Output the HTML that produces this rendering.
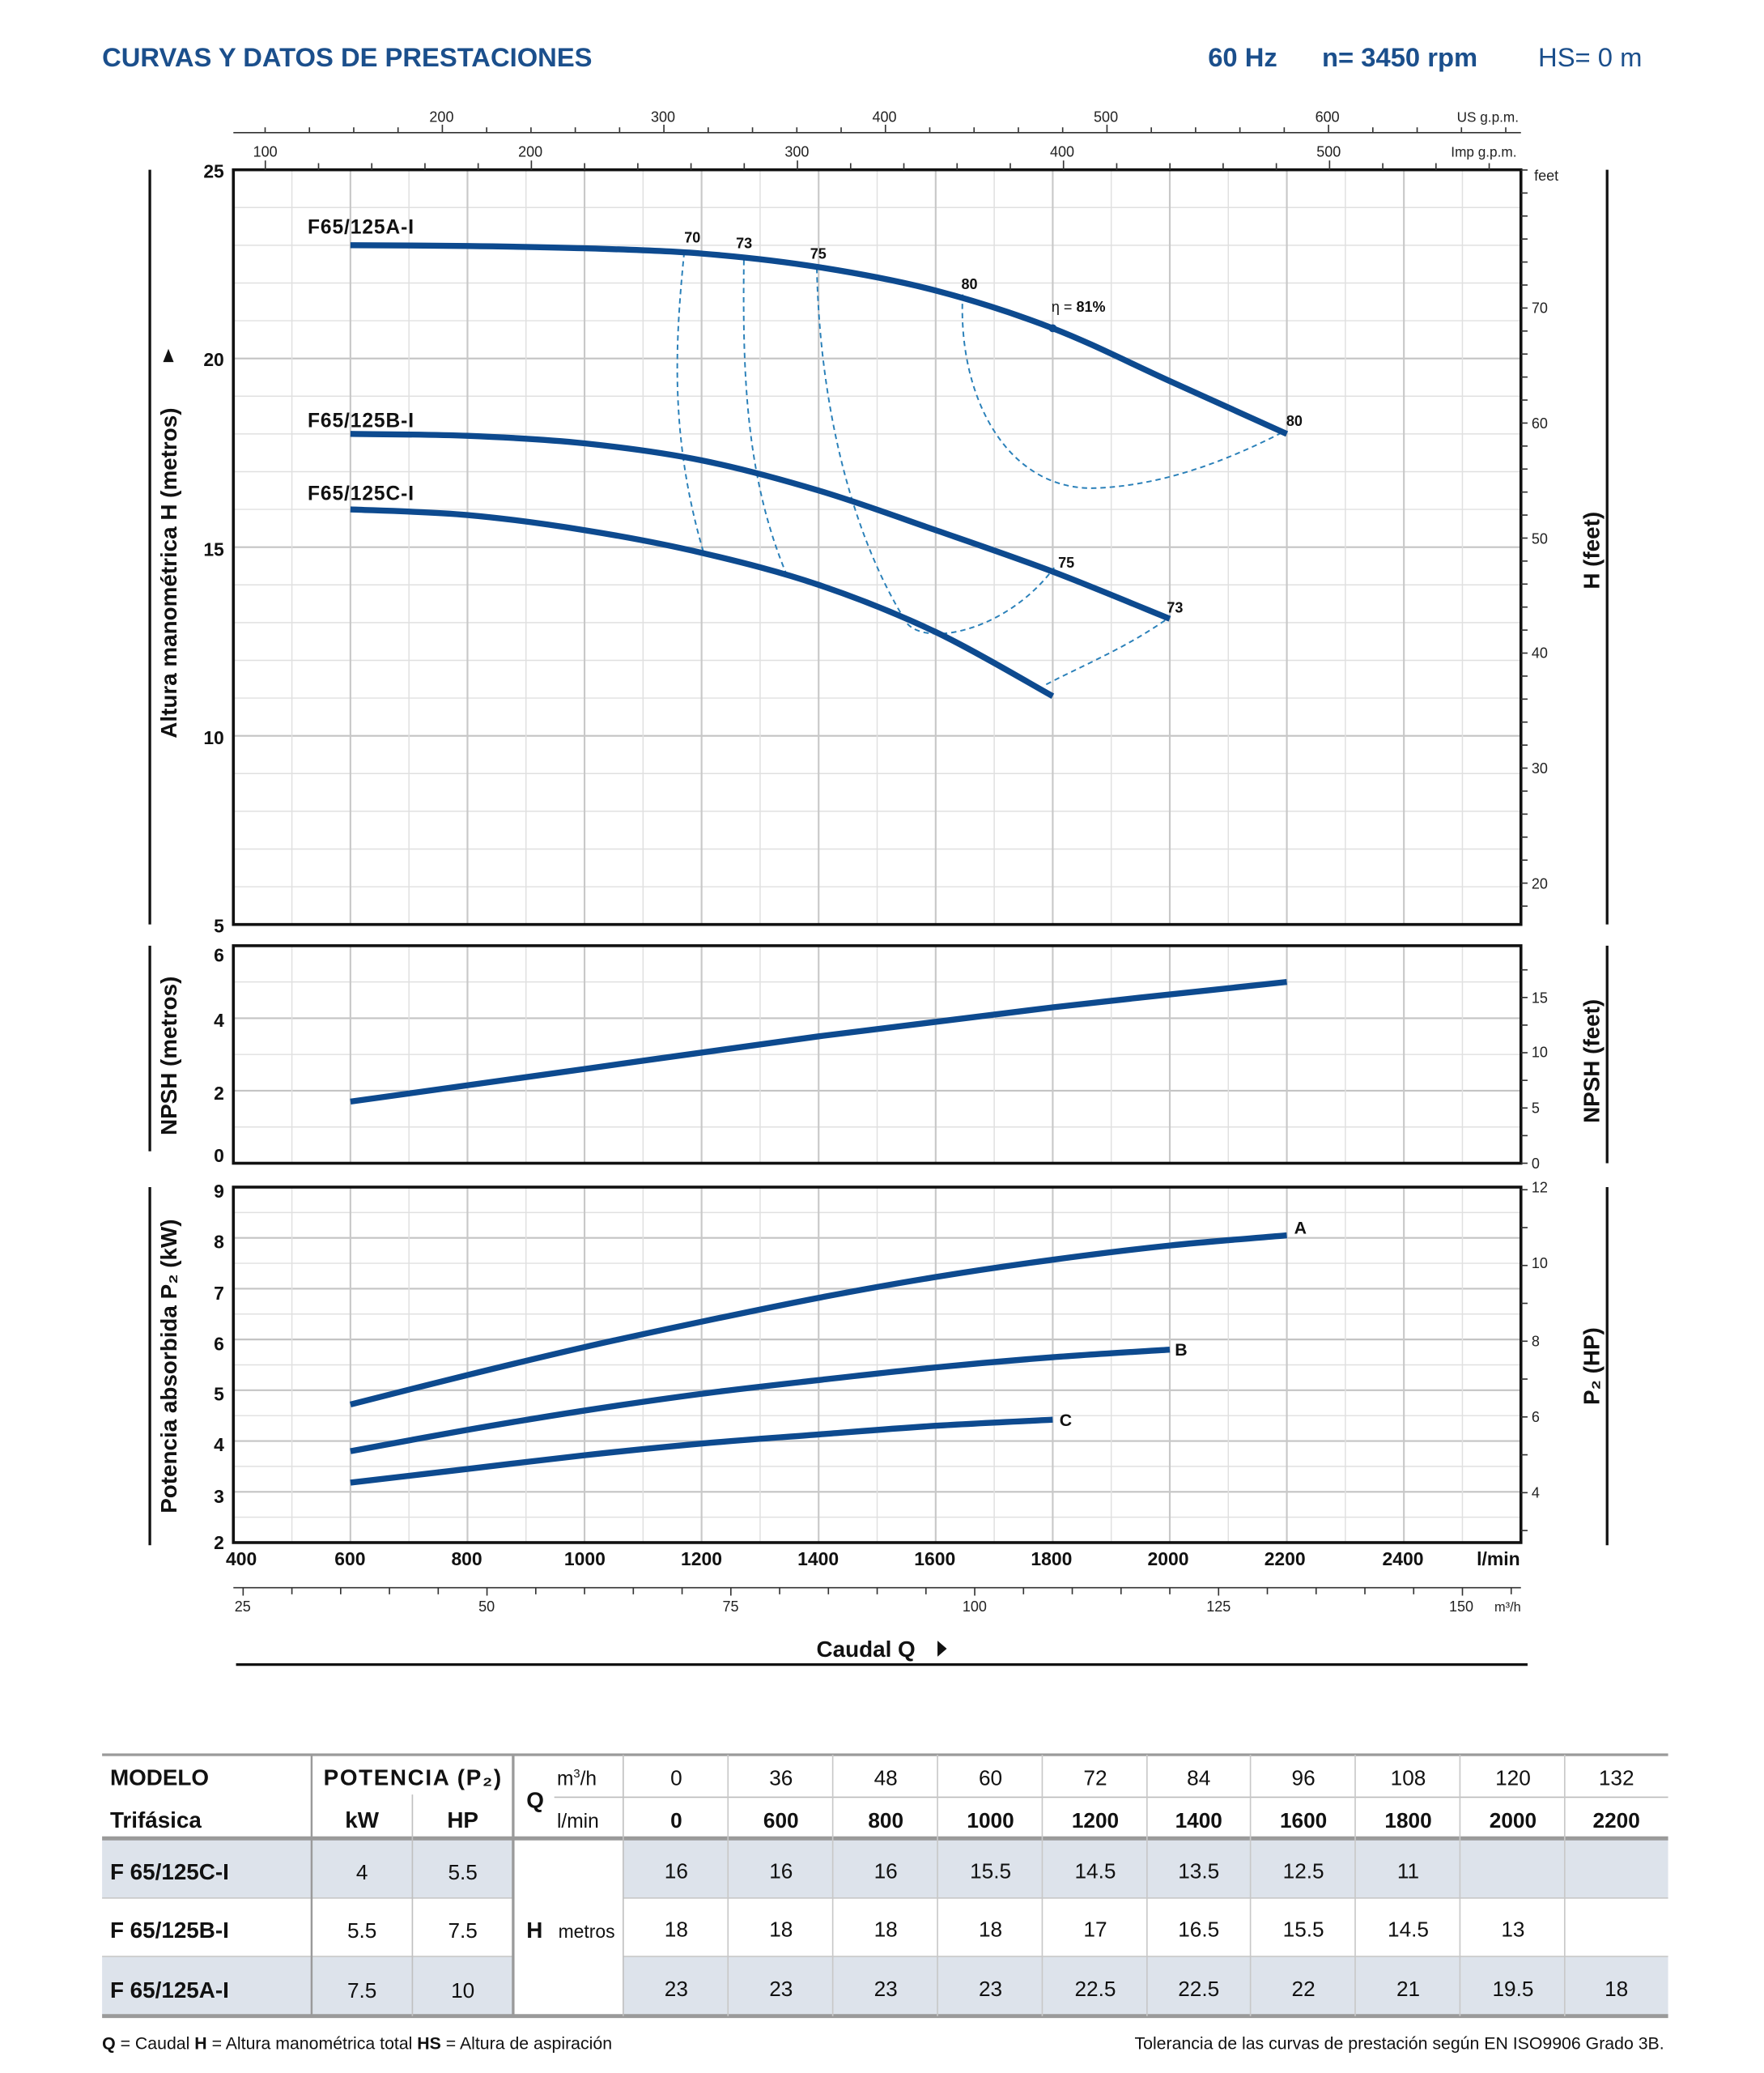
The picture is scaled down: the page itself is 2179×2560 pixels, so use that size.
<!DOCTYPE html>
<html><head><meta charset="utf-8"><style>
html,body{margin:0;padding:0;background:#fff}
svg{display:block}
text{font-family:"Liberation Sans",sans-serif}
</style></head><body>
<svg id="s" width="2179" height="2560" viewBox="0 0 1330.3 1562.9" xmlns="http://www.w3.org/2000/svg">
<g id="grid"></g>
<g id="curves"></g>
<!-- Title -->
<text x="77" y="50" font-size="20" font-weight="bold" fill="#1b4f8c">CURVAS Y DATOS DE PRESTACIONES</text>
<text x="911" y="50" font-size="20" font-weight="bold" fill="#1b4f8c">60 Hz</text>
<text x="997" y="50" font-size="20" font-weight="bold" fill="#1b4f8c">n= 3450 rpm</text>
<text x="1160" y="50" font-size="20" fill="#1b4f8c">HS= 0 m</text>
<!-- top axes labels -->
<g font-size="11" text-anchor="middle" fill="#222">
<text x="333" y="92">200</text><text x="500" y="92">300</text><text x="667" y="92">400</text><text x="834" y="92">500</text><text x="1001" y="92">600</text>
<text x="1122" y="92" font-size="10.5">US g.p.m.</text>
<text x="200" y="118">100</text><text x="400" y="118">200</text><text x="601" y="118">300</text><text x="801" y="118">400</text><text x="1002" y="118">500</text>
<text x="1119" y="118" font-size="10.5">Imp g.p.m.</text>
</g>
<!-- main left labels -->
<g font-size="14" font-weight="bold" text-anchor="end" fill="#111">
<text x="169" y="134">25</text><text x="169" y="276">20</text><text x="169" y="419">15</text><text x="169" y="561">10</text><text x="169" y="703">5</text>
<text x="169" y="725">6</text><text x="169" y="774">4</text><text x="169" y="829">2</text><text x="169" y="876">0</text>
<text x="169" y="903">9</text><text x="169" y="941">8</text><text x="169" y="980">7</text><text x="169" y="1018">6</text><text x="169" y="1056">5</text><text x="169" y="1094">4</text><text x="169" y="1133">3</text><text x="169" y="1168">2</text>
</g>
<g font-size="11" fill="#222">
<text x="1157" y="136">feet</text>
<text x="1155" y="236">70</text><text x="1155" y="323">60</text><text x="1155" y="410">50</text><text x="1155" y="496">40</text><text x="1155" y="583">30</text><text x="1155" y="670">20</text>
<text x="1155" y="756">15</text><text x="1155" y="797">10</text><text x="1155" y="839">5</text><text x="1155" y="881">0</text>
<text x="1155" y="899">12</text><text x="1155" y="956">10</text><text x="1155" y="1015">8</text><text x="1155" y="1072">6</text><text x="1155" y="1129">4</text>
</g>
<!-- axis titles -->
<g font-size="17" font-weight="bold" fill="#111" text-anchor="middle">
<text transform="translate(133,432) rotate(-90)">Altura manométrica H  (metros)</text>
<text transform="translate(1206,415) rotate(-90)">H  (feet)</text>
<text transform="translate(133,796) rotate(-90)">NPSH  (metros)</text>
<text transform="translate(1206,800) rotate(-90)">NPSH  (feet)</text>
<text transform="translate(133,1030) rotate(-90)">Potencia absorbida  P₂  (kW)</text>
<text transform="translate(1206,1030) rotate(-90)">P₂  (HP)</text>
</g>
<path d="M122,272 L132,268 L122,264Z" transform="rotate(-90 127 268)" fill="#111"/>
<!-- bottom labels -->
<g font-size="14" font-weight="bold" text-anchor="middle" fill="#111">
<text x="182" y="1180">400</text><text x="264" y="1180">600</text><text x="352" y="1180">800</text><text x="441" y="1180">1000</text><text x="529" y="1180">1200</text><text x="617" y="1180">1400</text><text x="705" y="1180">1600</text><text x="793" y="1180">1800</text><text x="881" y="1180">2000</text><text x="969" y="1180">2200</text><text x="1058" y="1180">2400</text><text x="1130" y="1180">l/min</text>
</g>
<g font-size="11" text-anchor="middle" fill="#222">
<text x="183" y="1215">25</text><text x="367" y="1215">50</text><text x="551" y="1215">75</text><text x="735" y="1215">100</text><text x="919" y="1215">125</text><text x="1102" y="1215">150</text><text x="1137" y="1215" font-size="10">m³/h</text>
</g>
<text x="653" y="1249" font-size="17" font-weight="bold" text-anchor="middle" fill="#111">Caudal Q</text>
<path d="M707,1237 L714,1243 L707,1249Z" fill="#111"/>
<line x1="178" y1="1255" x2="1152" y2="1255" stroke="#111" stroke-width="2"/>
<!-- curve labels -->
<g font-size="15" font-weight="bold" fill="#111">
<text x="232" y="176" textLength="80">F65/125A-I</text>
<text x="232" y="322" textLength="80">F65/125B-I</text>
<text x="232" y="377" textLength="80">F65/125C-I</text>
</g>
<g font-size="11" font-weight="bold" fill="#111">
<text x="516" y="183">70</text><text x="555" y="187">73</text><text x="611" y="195">75</text><text x="725" y="218">80</text>
<text x="793" y="235"><tspan font-weight="normal">η = </tspan>81%</text>
<text x="970" y="321">80</text><text x="798" y="428">75</text><text x="880" y="462">73</text>
<text x="976" y="930" font-size="13">A</text><text x="886" y="1022" font-size="13">B</text><text x="799" y="1075" font-size="13">C</text>
</g>
<!-- table -->
<g id="tbl">
<rect x="77" y="1386" width="1181" height="45" fill="#dde3eb"/>
<rect x="77" y="1475" width="1181" height="45" fill="#dde3eb"/>
<rect x="388" y="1387" width="82" height="133" fill="#fff"/>
<line x1="77" y1="1323" x2="1258" y2="1323" stroke="#9a9a9a" stroke-width="2"/>
<line x1="77" y1="1386" x2="1258" y2="1386" stroke="#9a9a9a" stroke-width="3"/>
<line x1="77" y1="1520" x2="1258" y2="1520" stroke="#9a9a9a" stroke-width="3"/>
<line x1="418" y1="1355" x2="1258" y2="1355" stroke="#bbb" stroke-width="1"/>
<line x1="77" y1="1431" x2="388" y2="1431" stroke="#c8c8c8"/><line x1="470" y1="1431" x2="1258" y2="1431" stroke="#c8c8c8"/>
<line x1="77" y1="1475" x2="388" y2="1475" stroke="#c8c8c8"/><line x1="470" y1="1475" x2="1258" y2="1475" stroke="#c8c8c8"/>
<line x1="235" y1="1323" x2="235" y2="1520" stroke="#9a9a9a" stroke-width="1.5"/>
<line x1="311" y1="1353" x2="311" y2="1520" stroke="#c0c0c0"/>
<line x1="387" y1="1323" x2="387" y2="1520" stroke="#9a9a9a" stroke-width="2"/>
<line x1="470" y1="1323" x2="470" y2="1520" stroke="#c0c0c0"/>
<g stroke="#c8c8c8">
<line x1="549" y1="1323" x2="549" y2="1520"/><line x1="628" y1="1323" x2="628" y2="1520"/><line x1="707" y1="1323" x2="707" y2="1520"/><line x1="786" y1="1323" x2="786" y2="1520"/><line x1="865" y1="1323" x2="865" y2="1520"/><line x1="943" y1="1323" x2="943" y2="1520"/><line x1="1022" y1="1323" x2="1022" y2="1520"/><line x1="1101" y1="1323" x2="1101" y2="1520"/><line x1="1180" y1="1323" x2="1180" y2="1520"/>
</g>
<g font-size="17" fill="#111">
<text x="83" y="1346" font-weight="bold">MODELO</text>
<text x="83" y="1378" font-weight="bold">Trifásica</text>
<text x="311" y="1346" font-weight="bold" text-anchor="middle" textLength="134">POTENCIA (P₂)</text>
<text x="273" y="1378" font-weight="bold" text-anchor="middle">kW</text>
<text x="349" y="1378" font-weight="bold" text-anchor="middle">HP</text>
<text x="397" y="1363" font-weight="bold">Q</text>
<text x="420" y="1346" font-size="15">m<tspan font-size="9" dy="-6">3</tspan><tspan dy="6">/h</tspan></text>
<text x="420" y="1378" font-size="15">l/min</text>
<text x="83" y="1417" font-weight="bold">F 65/125C-I</text>
<text x="83" y="1461" font-weight="bold">F 65/125B-I</text>
<text x="83" y="1506" font-weight="bold">F 65/125A-I</text>
<text x="397" y="1461" font-weight="bold">H</text>
<text x="421" y="1461" font-size="14">metros</text>
</g>
<g font-size="16" fill="#111" text-anchor="middle">
<text x="273" y="1417">4</text><text x="349" y="1417">5.5</text>
<text x="273" y="1461">5.5</text><text x="349" y="1461">7.5</text>
<text x="273" y="1506">7.5</text><text x="349" y="1506">10</text>
<text x="510" y="1346">0</text><text x="589" y="1346">36</text><text x="668" y="1346">48</text><text x="747" y="1346">60</text><text x="826" y="1346">72</text><text x="904" y="1346">84</text><text x="983" y="1346">96</text><text x="1062" y="1346">108</text><text x="1141" y="1346">120</text><text x="1219" y="1346">132</text>
<g font-weight="bold"><text x="510" y="1378">0</text><text x="589" y="1378">600</text><text x="668" y="1378">800</text><text x="747" y="1378">1000</text><text x="826" y="1378">1200</text><text x="904" y="1378">1400</text><text x="983" y="1378">1600</text><text x="1062" y="1378">1800</text><text x="1141" y="1378">2000</text><text x="1219" y="1378">2200</text></g>
<text x="510" y="1416">16</text><text x="589" y="1416">16</text><text x="668" y="1416">16</text><text x="747" y="1416">15.5</text><text x="826" y="1416">14.5</text><text x="904" y="1416">13.5</text><text x="983" y="1416">12.5</text><text x="1062" y="1416">11</text>
<text x="510" y="1460">18</text><text x="589" y="1460">18</text><text x="668" y="1460">18</text><text x="747" y="1460">18</text><text x="826" y="1460">17</text><text x="904" y="1460">16.5</text><text x="983" y="1460">15.5</text><text x="1062" y="1460">14.5</text><text x="1141" y="1460">13</text>
<text x="510" y="1505">23</text><text x="589" y="1505">23</text><text x="668" y="1505">23</text><text x="747" y="1505">23</text><text x="826" y="1505">22.5</text><text x="904" y="1505">22.5</text><text x="983" y="1505">22</text><text x="1062" y="1505">21</text><text x="1141" y="1505">19.5</text><text x="1219" y="1505">18</text>
</g>
<g font-size="13" fill="#111">
<text x="77" y="1545"><tspan font-weight="bold">Q</tspan> = Caudal   <tspan font-weight="bold">H</tspan> = Altura manométrica total   <tspan font-weight="bold">HS</tspan> = Altura de aspiración</text>
<text x="1255" y="1545" text-anchor="end">Tolerancia de las curvas de prestación según EN ISO9906 Grado 3B.</text>
</g>
</g>
</svg>
<script>
(function(){
var NS="http://www.w3.org/2000/svg";
var G=document.getElementById('grid'),C=document.getElementById('curves');
function el(p,t,a){var e=document.createElementNS(NS,t);for(var k in a)e.setAttribute(k,a[k]);p.appendChild(e);return e;}
function ln(p,x1,y1,x2,y2,c,w){return el(p,'line',{x1:x1,y1:y1,x2:x2,y2:y2,stroke:c,'stroke-width':w||1});}
var L=176,R=1147;
function X(q){return L+(q-400)*(R-L)/2200;}
var panels=[
 {t:128,b:697,lo:5,hi:25,step:1,maj:5},
 {t:713,b:877,lo:0,hi:6,step:1,maj:2},
 {t:895,b:1163,lo:2,hi:9,step:0.5,maj:1}
];
panels.forEach(function(p){
 var Y=function(v){return p.b-(v-p.lo)*(p.b-p.t)/(p.hi-p.lo);};
 for(var v=p.lo;v<=p.hi+1e-6;v+=p.step){
  var m=Math.abs(v/p.maj-Math.round(v/p.maj))<1e-6;
  ln(G,L,Y(v),R,Y(v),m?'#c4c4c4':'#e0e0e0',m?1.3:0.9);
 }
 for(var q=500;q<2600;q+=100){
  var m2=(q%200==0);
  ln(G,X(q),p.t,X(q),p.b,m2?'#c8c8c8':'#e0e0e0',m2?1.3:0.9);
 }
 el(G,'rect',{x:L,y:p.t,width:R-L,height:p.b-p.t,fill:'none',stroke:'#111','stroke-width':2.2});
 p.Y=Y;
});
[[128,697],[713,868],[895,1165]].forEach(function(s){ln(G,113,s[0],113,s[1],'#111',2);});
[[128,697],[713,877],[895,1165]].forEach(function(s){ln(G,1212,s[0],1212,s[1],'#111',2);});
ln(G,L,100,R,100,'#333',1);
for(var g=120;g<=680;g+=20){var x=X(g*3.7854);if(x>R)break;ln(G,x,g%100==0?94:96,x,100,'#333',1);}
for(var g=100;g<=570;g+=20){var x=X(g*4.546);if(x>R)break;ln(G,x,g%100==0?121:123,x,128,'#333',1);}
var P0=panels[0];
for(var f=18;f<=82;f+=2){var y=P0.Y(f*0.3048);if(y<P0.t)break;ln(G,R,y,R+5,y,'#333',1);}
var P1=panels[1];
for(var f=0;f<=19;f+=2.5){var y=P1.Y(f*0.3048);if(y<P1.t)break;ln(G,R,y,R+5,y,'#333',1);}
var P2=panels[2];
for(var h=3;h<=12;h+=1){var y=P2.Y(h*0.7457);if(y<P2.t-1)break;ln(G,R,y,R+5,y,'#333',1);}
ln(G,L,1197,R,1197,'#333',1);
for(var m=25;m<=155;m+=5){var x=X(m*16.667);if(x>R)break;ln(G,x,1197,x,m%25==0?1203:1202,'#333',1);}
function path(pts){var d='M'+pts[0][0].toFixed(2)+','+pts[0][1].toFixed(2);
 for(var i=0;i<pts.length-1;i++){var p0=pts[i-1]||pts[i],p1=pts[i],p2=pts[i+1],p3=pts[i+2]||p2;
  var c1=[p1[0]+(p2[0]-p0[0])/6,p1[1]+(p2[1]-p0[1])/6],c2=[p2[0]-(p3[0]-p1[0])/6,p2[1]-(p3[1]-p1[1])/6];
  d+=' C'+c1[0].toFixed(2)+','+c1[1].toFixed(2)+' '+c2[0].toFixed(2)+','+c2[1].toFixed(2)+' '+p2[0].toFixed(2)+','+p2[1].toFixed(2);}
 return d;}
function curve(P,data){var pts=data.map(function(d){return [X(d[0]),P.Y(d[1])];});
 el(C,'path',{d:path(pts),fill:'none',stroke:'#0d4a8f','stroke-width':4.5,'stroke-linecap':'butt'});}
var dash={fill:'none',stroke:'#2a80b9','stroke-width':1.2,'stroke-dasharray':'4,3'};
['M516,190 C509,260 505,330 531,418',
 'M561,196 C560,280 562,360 594,435',
 'M616,202 C618,300 640,400 684,470 C700,488 760,475 795,428',
 'M726,222 C722,300 760,370 826,368 C880,366 930,345 969,325',
 'M789,516 C820,500 850,488 881,466'].forEach(function(d){var a={};for(var k in dash)a[k]=dash[k];a.d=d;el(C,'path',a);});
curve(P0,[[600,23],[800,22.98],[1000,22.92],[1200,22.78],[1400,22.42],[1600,21.8],[1800,20.8],[2000,19.4],[2200,18.0]]);
curve(P0,[[600,18],[800,17.95],[1000,17.75],[1200,17.3],[1400,16.5],[1600,15.45],[1800,14.35],[2000,13.1]]);
curve(P0,[[600,16],[800,15.85],[1000,15.45],[1200,14.85],[1400,14.0],[1600,12.75],[1800,11.05]]);
el(C,'circle',{cx:X(1800),cy:P0.Y(20.8),r:3,fill:'#0d4a8f'});
curve(P1,[[600,1.7],[1000,2.6],[1400,3.5],[1800,4.3],[2200,5.0]]);
curve(P2,[[600,4.72],[800,5.3],[1000,5.85],[1200,6.35],[1400,6.82],[1600,7.23],[1800,7.57],[2000,7.85],[2200,8.05]]);
curve(P2,[[600,3.8],[800,4.22],[1000,4.6],[1200,4.93],[1400,5.2],[1600,5.45],[1800,5.65],[2000,5.8]]);
curve(P2,[[600,3.18],[800,3.45],[1000,3.72],[1200,3.95],[1400,4.13],[1600,4.3],[1800,4.42]]);
})();
</script>
</body></html>
